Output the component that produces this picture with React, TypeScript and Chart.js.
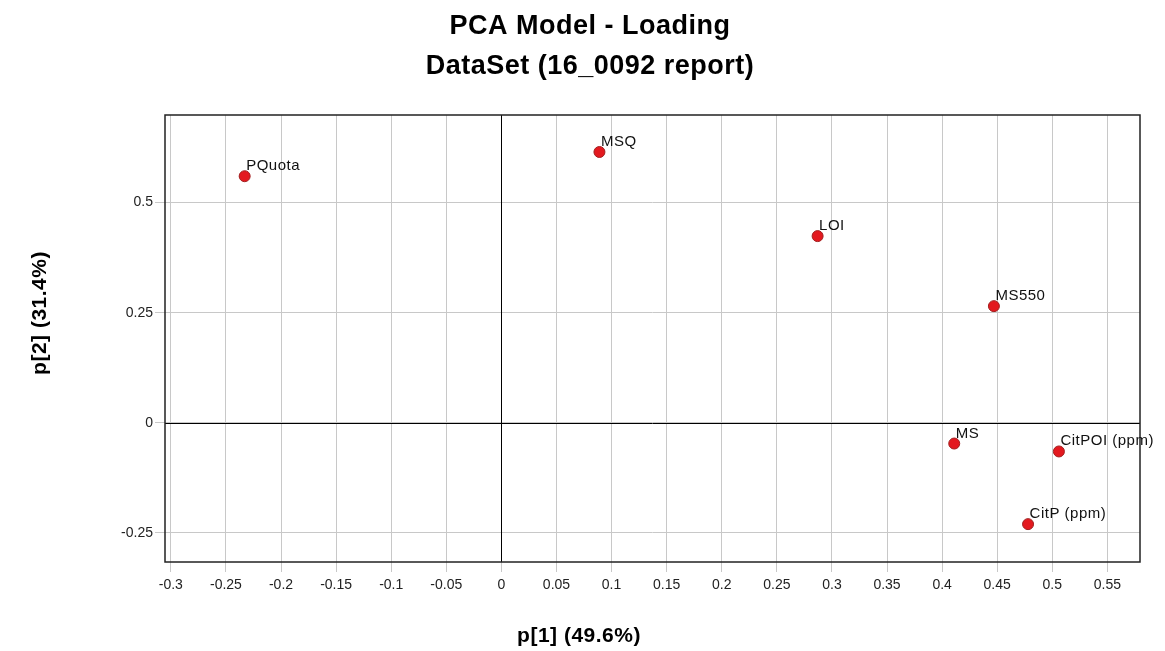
import { useEffect, useRef } from "react";
import { Chart, registerables } from "chart.js";

Chart.register(...registerables);

// ---- data ----
const pointNames = ["PQuota", "MSQ", "LOI", "MS550", "MS", "CitPOI (ppm)", "CitP (ppm)"];
const p1Values = [-0.233, 0.089, 0.287, 0.447, 0.411, 0.506, 0.478];
const p2Values = [0.56, 0.615, 0.424, 0.265, -0.047, -0.065, -0.23];

const xTickValues = [-0.3, -0.25, -0.2, -0.15, -0.1, -0.05, 0, 0.05, 0.1, 0.15, 0.2, 0.25, 0.3, 0.35, 0.4, 0.45, 0.5, 0.55];
const xTickLabels = ["-0.3", "-0.25", "-0.2", "-0.15", "-0.1", "-0.05", "0", "0.05", "0.1", "0.15", "0.2", "0.25", "0.3", "0.35", "0.4", "0.45", "0.5", "0.55"];
const yTickValues = [-0.25, 0, 0.25, 0.5];
const yTickLabels = ["-0.25", "0", "0.25", "0.5"];

const titleLines = ["PCA Model - Loading", "DataSet (16_0092 report)"];
const xAxisTitle = "p[1] (49.6%)";
const yAxisTitle = "p[2] (31.4%)";

const FONT = "'Liberation Sans', Arial, sans-serif";

const decorPlugin = {
  id: "decor",
  beforeDatasetsDraw(chart: any) {
    const { ctx, chartArea: a, scales } = chart;
    const x0 = scales.x.getPixelForValue(0);
    const y0 = scales.y.getPixelForValue(0);
    ctx.save();
    ctx.strokeStyle = "#000";
    ctx.lineWidth = 1;
    ctx.beginPath();
    ctx.moveTo(Math.round(x0) + 0.5, a.top);
    ctx.lineTo(Math.round(x0) + 0.5, a.bottom);
    ctx.moveTo(a.left, Math.round(y0) + 0.5);
    ctx.lineTo(a.right, Math.round(y0) + 0.5);
    ctx.stroke();
    ctx.lineWidth = 1.5;
    ctx.strokeStyle = "#222";
    ctx.strokeRect(a.left, a.top, a.right - a.left, a.bottom - a.top);
    ctx.restore();
  },
  afterDatasetsDraw(chart: any) {
    const { ctx } = chart;
    const meta = chart.getDatasetMeta(0);
    ctx.save();
    ctx.font = `15px ${FONT}`;
    ctx.fillStyle = "#111";
    ctx.textAlign = "left";
    ctx.textBaseline = "alphabetic";
    (ctx as any).letterSpacing = "0.5px";
    meta.data.forEach((pt: any, i: number) => {
      ctx.fillText(pointNames[i], pt.x + 1.5, pt.y - 6);
    });
    ctx.restore();
  },
  afterDraw(chart: any) {
    const { ctx } = chart;
    ctx.save();
    ctx.fillStyle = "#000";
    ctx.textAlign = "center";
    ctx.textBaseline = "middle";
    (ctx as any).letterSpacing = "0.5px";
    ctx.font = `bold 27px ${FONT}`;
    ctx.fillText(titleLines[0], 590, 27);
    ctx.fillText(titleLines[1], 590, 67);
    (ctx as any).letterSpacing = "0.5px";
    ctx.font = `bold 21px ${FONT}`;
    ctx.fillText(xAxisTitle, 579, 636);
    ctx.translate(40, 313);
    ctx.rotate(-Math.PI / 2);
    ctx.fillText(yAxisTitle, 0, 0);
    ctx.restore();
  },
};

export default function App() {
  const canvasRef = useRef<HTMLCanvasElement | null>(null);

  useEffect(() => {
    document.body.style.margin = "0";
    const canvas = canvasRef.current;
    if (!canvas) return;
    const chart = new Chart(canvas, {
      type: "scatter",
      data: {
        datasets: [
          {
            data: p1Values.map((x, i) => ({ x, y: p2Values[i] })),
            backgroundColor: "#e3191f",
            borderColor: "#a12020",
            borderWidth: 1,
            pointRadius: 5.5,
            pointHoverRadius: 5.5,
          },
        ],
      },
      options: {
        responsive: true,
        maintainAspectRatio: false,
        animation: false,
        events: [],
        layout: { padding: { top: 115, right: 25, left: 0, bottom: 0 } },
        plugins: {
          legend: { display: false },
          tooltip: { enabled: false },
          title: { display: false },
        },
        scales: {
          x: {
            type: "linear",
            min: -0.3053,
            max: 0.5796,
            afterBuildTicks: (s: any) => {
              s.ticks = xTickValues.map((v) => ({ value: v }));
            },
            afterFit: (s: any) => {
              s.height = 89;
            },
            ticks: {
              callback: (v: any) => xTickLabels[xTickValues.indexOf(v)] ?? "",
              font: { family: FONT, size: 14 },
              color: "#222",
              padding: 5,
              maxRotation: 0,
              autoSkip: false,
            },
            grid: { color: "#c8c8c8", lineWidth: 1, tickLength: 10, tickColor: "#c8c8c8" },
            border: { display: false },
          },
          y: {
            type: "linear",
            min: -0.316,
            max: 0.699,
            afterBuildTicks: (s: any) => {
              s.ticks = yTickValues.map((v) => ({ value: v }));
            },
            afterFit: (s: any) => {
              s.width = 165;
            },
            ticks: {
              callback: (v: any) => yTickLabels[yTickValues.indexOf(v)] ?? "",
              font: { family: FONT, size: 14 },
              color: "#222",
              padding: 2,
              autoSkip: false,
            },
            grid: { color: "#c8c8c8", lineWidth: 1, tickLength: 10, tickColor: "#c8c8c8" },
            border: { display: false },
          },
        },
      },
      plugins: [decorPlugin],
    });
    return () => chart.destroy();
  }, []);

  return (
    <div style={{ width: 1165, height: 651, position: "relative" }}>
      <canvas ref={canvasRef} />
    </div>
  );
}
